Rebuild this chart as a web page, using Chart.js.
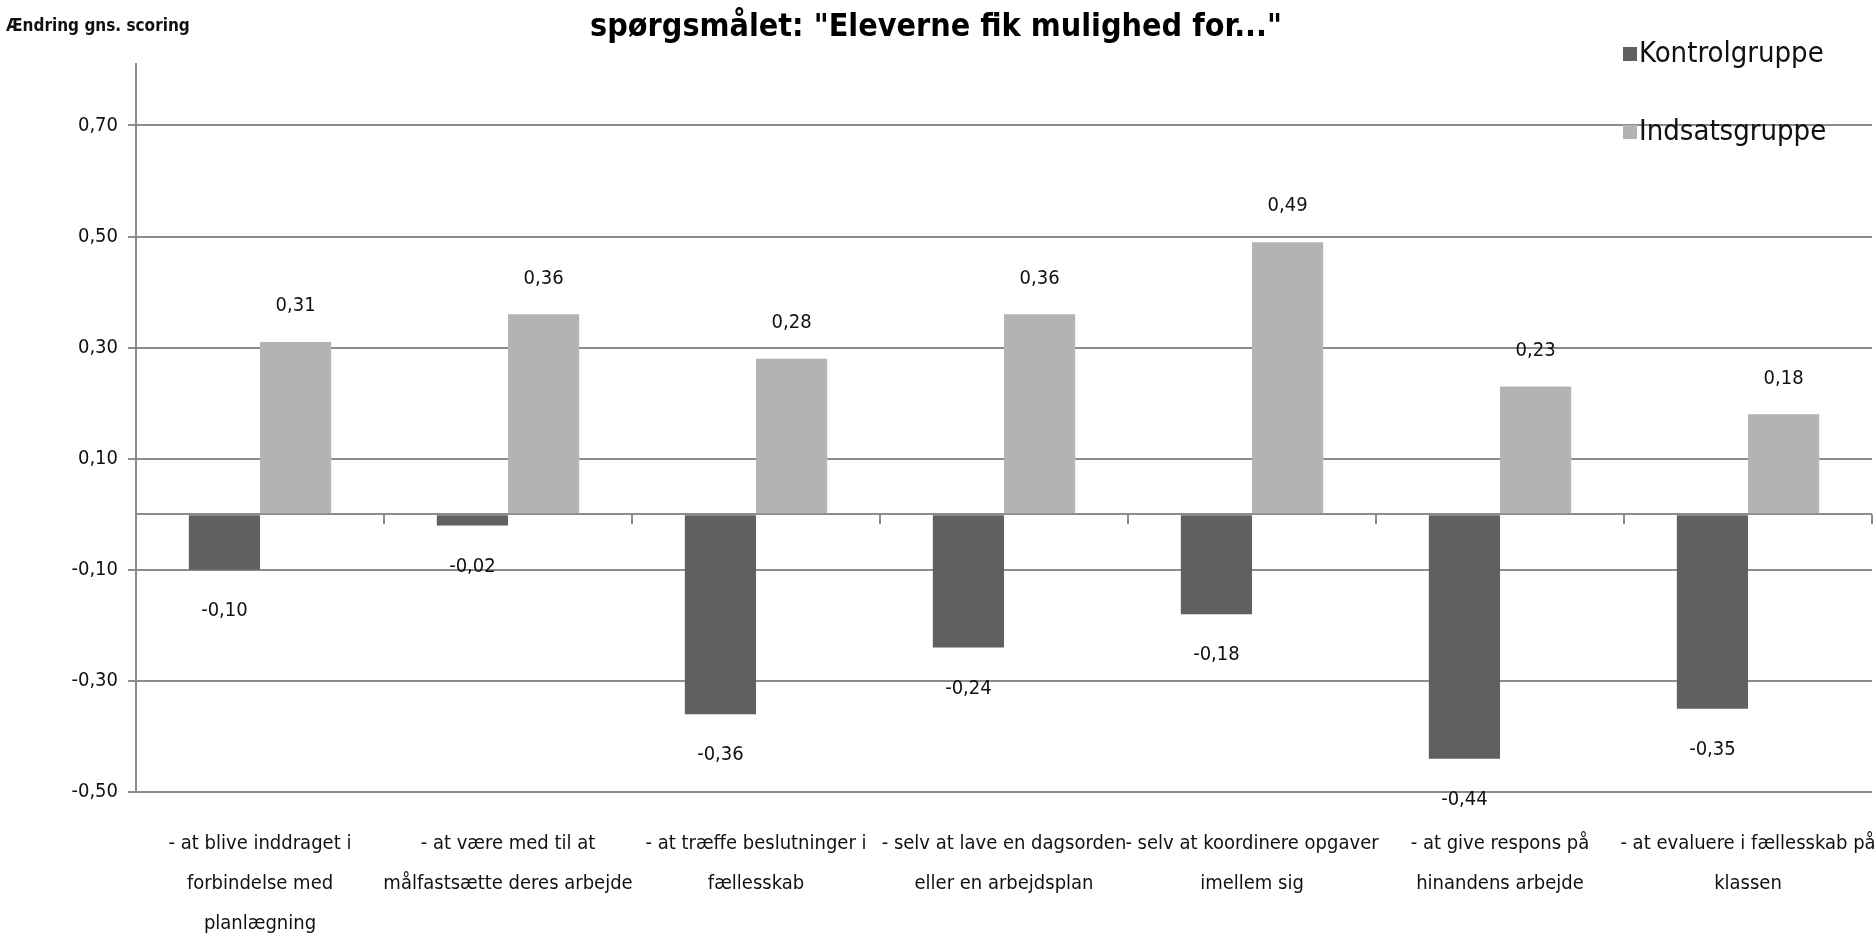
<!DOCTYPE html>
<html>
<head>
<meta charset="utf-8">
<script src="https://cdn.jsdelivr.net/npm/chart.js@4.4.1/dist/chart.umd.min.js"></script>
<style>
    html, body { margin: 0; padding: 0; background: #ffffff; }
    #wrap { position: relative; width: 1876px; height: 943px; }
    #ylabel { position: absolute; left: 6px; top: 15px; line-height: 22px; font: bold 17px 'DejaVu Sans Condensed', sans-serif; color: #111; }
    .legend_item { position: absolute; left: 1623px; height: 30px; line-height: 30px; font: 29px 'DejaVu Sans Condensed', sans-serif; color: #111; white-space: nowrap; }
    .legend_item span { display: inline-block; width: 14px; height: 14px; margin-right: 2px; vertical-align: 1px; }
</style>
</head>
<body>
<div id="wrap">
    <canvas id="bar_graph" width="1876" height="943"></canvas>
    <div id="ylabel">Ændring gns. scoring</div>
    <div class="legend_item" style="top:35px"><span style="background:#606060"></span>Kontrolgruppe</div>
    <div class="legend_item" style="top:113px"><span style="background:#b3b3b3"></span>Indsatsgruppe</div>
</div>
<script>
var title = 'spørgsmålet: "Eleverne fik mulighed for..."';
var labels = [
    ['- at blive inddraget i', 'forbindelse med', 'planlægning'],
    ['- at være med til at', 'målfastsætte deres arbejde'],
    ['- at træffe beslutninger i', 'fællesskab'],
    ['- selv at lave en dagsorden', 'eller en arbejdsplan'],
    ['- selv at koordinere opgaver', 'imellem sig'],
    ['- at give respons på', 'hinandens arbejde'],
    ['- at evaluere i fællesskab på', 'klassen']
];
var kontrol = [-0.10, -0.02, -0.36, -0.24, -0.18, -0.44, -0.35];
var indsats = [0.31, 0.36, 0.28, 0.36, 0.49, 0.23, 0.18];
var y_ticks = [-0.50, -0.30, -0.10, 0, 0.10, 0.30, 0.50, 0.70];

var font_family = "'DejaVu Sans Condensed', sans-serif";

function fmt(v){
    return v.toFixed(2).replace('.', ',');
}

//value labels above/below each bar + small ticks on the zero line
var extras = {
    id: 'extras',
    afterDatasetsDraw: function(chart){
        var ctx = chart.ctx;
        var y = chart.scales.y;
        var x = chart.scales.x;
        var zero = y.getPixelForValue(0);
        ctx.save();
        ctx.strokeStyle = '#8c8c8c';
        ctx.lineWidth = 2;
        for(var i=0; i<=labels.length; i++){
            var px = x.getPixelForValue(i - 0.5);
            ctx.beginPath();
            ctx.moveTo(px, zero);
            ctx.lineTo(px, zero + 10);
            ctx.stroke();
        }
        ctx.font = '20px ' + font_family;
        ctx.fillStyle = '#111';
        ctx.textAlign = 'center';
        ctx.textBaseline = 'middle';
        chart.data.datasets.forEach(function(ds, d){
            chart.getDatasetMeta(d).data.forEach(function(bar, i){
                var v = ds.data[i];
                var ty = v < 0 ? bar.y + 41 : bar.y - 36;
                ctx.fillText(fmt(v), bar.x, ty);
            });
        });
        ctx.restore();
    }
};

var chart = new Chart(document.getElementById('bar_graph').getContext('2d'), {
    type: 'bar',
    data: {
        labels: labels,
        datasets: [{
            label: 'Kontrolgruppe',
            data: kontrol,
            backgroundColor: '#606060',
        },{
            label: 'Indsatsgruppe',
            data: indsats,
            backgroundColor: '#b3b3b3',
        }]
    },
    options: {
        responsive: false,
        animation: false,
        layout: { padding: { top: 0, right: 4, bottom: 0, left: 0 } },
        datasets: {
            bar: { categoryPercentage: 0.574, barPercentage: 1.0 }
        },
        scales: {
            x: {
                grid: { display: false },
                border: { display: false },
                ticks: {
                    color: '#111',
                    padding: 24,
                    maxRotation: 0,
                    autoSkip: false,
                    font: { family: font_family, size: 20, lineHeight: 2.0 }
                },
                afterFit: function(scale){
                    scale.height = 151;
                    scale.paddingLeft = 0;
                    scale.paddingRight = 0;
                }
            },
            y: {
                min: -0.5,
                max: 0.81,
                afterBuildTicks: function(scale){
                    scale.ticks = y_ticks.map(function(v){ return { value: v }; });
                },
                grid: {
                    color: '#8c8c8c',
                    lineWidth: 2,
                    tickLength: 8,
                    tickColor: function(c){ return c.tick && c.tick.value === 0 ? 'rgba(0,0,0,0)' : '#8c8c8c'; }
                },
                border: { display: true, color: '#8c8c8c', width: 2 },
                ticks: {
                    color: '#111',
                    padding: 10,
                    font: { family: font_family, size: 20 },
                    callback: function(v){ return v === 0 ? '' : fmt(v); }
                },
                afterFit: function(scale){ scale.width = 136; }
            }
        },
        plugins: {
            legend: { display: false },
            tooltip: { enabled: false },
            title: {
                display: true,
                text: title,
                color: '#000',
                padding: { top: 8, bottom: 18 },
                font: { family: font_family, size: 32, weight: 'bold', lineHeight: 1.2 }
            }
        }
    },
    plugins: [extras]
});
</script>
</body>
</html>
